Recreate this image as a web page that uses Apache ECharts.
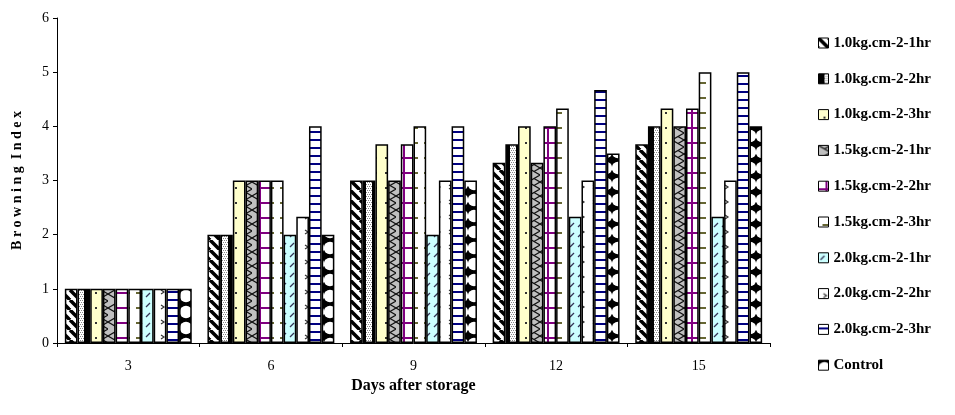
<!DOCTYPE html>
<html>
<head>
<meta charset="utf-8">
<script src="https://cdn.jsdelivr.net/npm/echarts@6/dist/echarts.min.js"></script>
<style>
html, body { margin: 0; padding: 0; background: #fff; }
#content { width: 955px; height: 415px; }
</style>
</head>
<body>
<div id="content"></div>
<script>
// data
var days = ['3', '6', '9', '12', '15'];
var names = ['1.0kg.cm-2-1hr', '1.0kg.cm-2-2hr', '1.0kg.cm-2-3hr', '1.5kg.cm-2-1hr', '1.5kg.cm-2-2hr',
  '1.5kg.cm-2-3hr', '2.0kg.cm-2-1hr', '2.0kg.cm-2-2hr', '2.0kg.cm-2-3hr', 'Control'];
var p10_1 = [1, 2, 3, 3.33, 3.67];
var p10_2 = [1, 2, 3, 3.67, 4];
var p10_3 = [1, 3, 3.67, 4, 4.33];
var p15_1 = [1, 3, 3, 3.33, 4];
var p15_2 = [1, 3, 3.67, 4, 4.33];
var p15_3 = [1, 3, 4, 4.33, 5];
var p20_1 = [1, 2, 2, 2.33, 2.33];
var p20_2 = [1, 2.33, 3, 3, 3];
var p20_3 = [1, 4, 4, 4.67, 5];
var control = [1, 2, 3, 3.5, 4];
var yTicks = [0, 1, 2, 3, 4, 5, 6];

// small canvas fill patterns
function pat(w, h, bg, draw) {
  var c = document.createElement('canvas');
  c.width = w; c.height = h;
  var g = c.getContext('2d');
  g.fillStyle = bg; g.fillRect(0, 0, w, h);
  draw(g);
  return { image: c, repeat: 'repeat' };
}
var fills = [
  pat(10, 10, '#fff', function (g) { // thick back-diagonal stripes
    g.strokeStyle = '#000'; g.lineWidth = 3.5;
    for (var i = -10; i <= 20; i += 10) { g.beginPath(); g.moveTo(i, 0); g.lineTo(i + 10, 10); g.stroke(); }
  }),
  pat(12, 12, '#000', function (g) { // dark with light checker
    g.fillStyle = '#fff'; g.fillRect(6, 0, 6, 12);
    g.fillStyle = '#888';
    for (var y = 0; y < 12; y += 2) for (var x = 6 + (y % 4) / 2; x < 12; x += 2) g.fillRect(x, y, 1, 1);
    g.fillStyle = '#000'; g.fillRect(0, 0, 6, 12);
  }),
  pat(10, 15, '#ffffcc', function (g) { // dots
    g.fillStyle = '#333'; g.fillRect(5, 7, 2, 2);
  }),
  pat(12, 14, '#c0c0c0', function (g) { // zigzag
    g.strokeStyle = '#111'; g.lineWidth = 1.2;
    g.beginPath(); g.moveTo(0, 0); g.lineTo(12, 7); g.lineTo(0, 14); g.stroke();
    g.beginPath(); g.moveTo(12, 0); g.lineTo(6, 3.5); g.stroke();
    g.beginPath(); g.moveTo(12, 14); g.lineTo(6, 10.5); g.stroke();
  }),
  pat(12, 15, '#fff', function (g) { // purple grid
    g.fillStyle = '#800080'; g.fillRect(7, 0, 2, 15); g.fillRect(0, 7, 12, 2);
  }),
  pat(12, 15, '#fff', function (g) { // olive dashes
    g.fillStyle = '#666633'; g.fillRect(4, 7, 6, 2);
  }),
  pat(8, 10, '#ccffff', function (g) { // small diagonal marks
    g.strokeStyle = '#335'; g.lineWidth = 1.2;
    g.beginPath(); g.moveTo(2, 7); g.lineTo(6, 3); g.stroke();
  }),
  pat(12, 15, '#fff', function (g) { // small arrow marks
    g.strokeStyle = '#333'; g.lineWidth = 1.2;
    g.beginPath(); g.moveTo(5, 5); g.lineTo(8, 7); g.lineTo(5, 9); g.stroke();
  }),
  pat(10, 8, '#fff', function (g) { // navy horizontal stripes
    g.fillStyle = '#000080'; g.fillRect(0, 3, 10, 2);
  }),
  pat(12, 16, '#000', function (g) { // white circles on black
    g.fillStyle = '#fff';
    g.beginPath(); g.arc(6, 8, 6.2, 0, Math.PI * 2); g.fill();
  })
];

var values = [p10_1, p10_2, p10_3, p15_1, p15_2, p15_3, p20_1, p20_2, p20_3, control];
var series = names.map(function (n, i) {
  return {
    name: n,
    type: 'bar',
    data: values[i],
    barGap: '0%',
    barCategoryGap: '11%',
    itemStyle: { color: fills[i], borderColor: '#000', borderWidth: 1.5 }
  };
});

var font = '"Liberation Serif", "Times New Roman", serif';
var myChart = echarts.init(document.getElementById('content'));
myChart.setOption({
  animation: false,
  backgroundColor: '#fff',
  grid: { left: 57, right: 185, top: 18, bottom: 72 },
  legend: {
    orient: 'vertical',
    left: 818,
    top: 35,
    padding: 0,
    itemWidth: 10,
    itemHeight: 10,
    itemGap: 19.8,
    icon: 'rect',
    itemStyle: { borderColor: '#000', borderWidth: 1 },
    textStyle: { fontFamily: font, fontWeight: 'bold', fontSize: 15, lineHeight: 16, color: '#000' },
    data: names
  },
  xAxis: {
    type: 'category',
    data: days,
    name: 'Days after storage',
    nameLocation: 'middle',
    nameGap: 34,
    nameTextStyle: { fontFamily: font, fontWeight: 'bold', fontSize: 16, color: '#000' },
    axisLine: { lineStyle: { color: '#000', width: 1 } },
    axisTick: { show: true, length: 4, lineStyle: { color: '#000' } },
    axisLabel: { fontFamily: font, fontSize: 14, color: '#000', margin: 16 }
  },
  yAxis: {
    type: 'value',
    min: yTicks[0],
    max: yTicks[yTicks.length - 1],
    interval: 1,
    name: 'B r o w n i n g  I n d e x',
    nameLocation: 'middle',
    nameGap: 33,
    nameTextStyle: { fontFamily: font, fontWeight: 'bold', fontSize: 14, color: '#000' },
    axisLine: { show: true, lineStyle: { color: '#000', width: 1 } },
    axisTick: { show: true, length: 4, lineStyle: { color: '#000' } },
    splitLine: { show: false },
    axisLabel: { fontFamily: font, fontSize: 14, color: '#000', margin: 8 }
  },
  series: series
});
</script>
</body>
</html>
